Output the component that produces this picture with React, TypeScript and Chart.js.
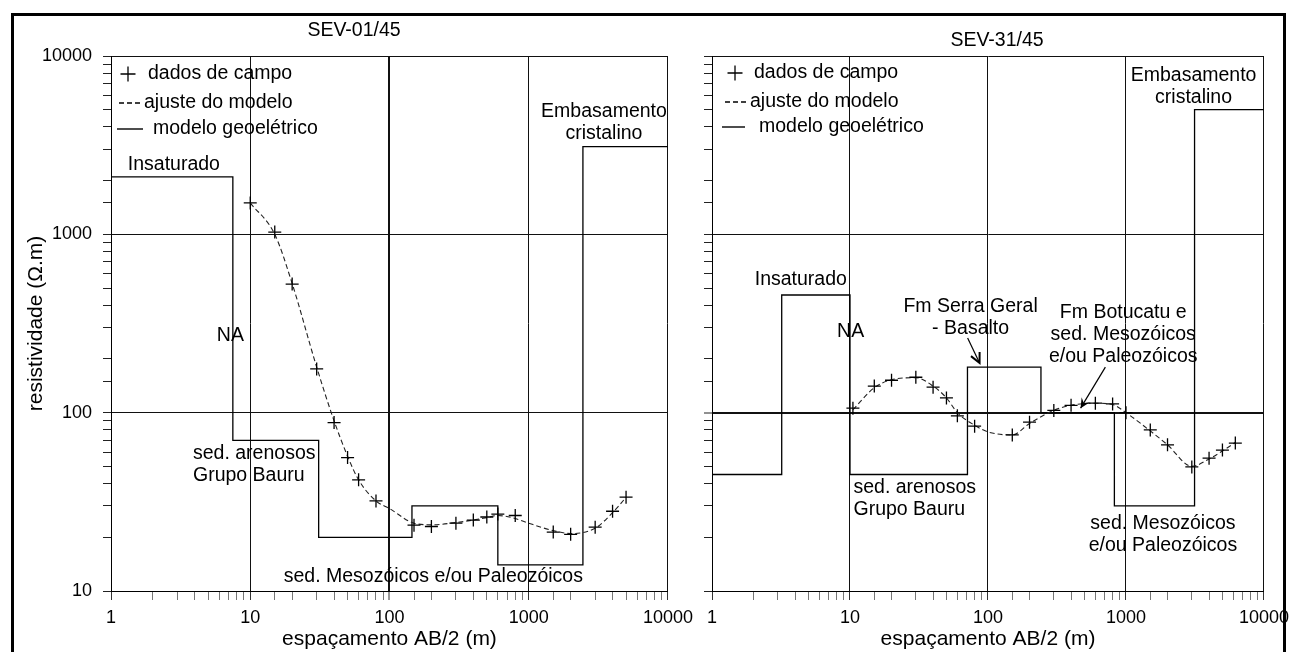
import React, { useEffect, useRef } from 'react';
import { Chart, registerables } from 'chart.js';

Chart.register(...registerables);

// ---------------- SEV-01/45 (left panel) ----------------
const sev01FieldAB = [10, 15, 20, 30, 40, 50, 60, 80, 150, 200, 300, 400, 500, 600, 800, 1500, 2000, 3000, 4000, 5000];
const sev01FieldRho = [1500, 1030, 526, 176, 88, 56, 42, 32, 23.4, 23, 24, 25, 26, 27, 26.5, 21.4, 20.8, 22.8, 28, 33.6];
const sev01FitAB = [10, 15, 20, 30, 40, 50, 60, 80, 100, 150, 200, 300, 400, 500, 600, 800, 1000, 1500, 2000, 3000, 4000, 5000];
const sev01FitRho = [1500, 1000, 530, 180, 90, 57, 42, 32, 29, 24, 23.5, 24.2, 25, 25.8, 26.5, 25.5, 24, 21.8, 21, 22.5, 27.5, 33.5];
const sev01ModelAB = [1, 7.5, 31, 145, 600, 2450, 10000];
const sev01ModelRho = [2100, 70, 20, 30, 14, 3100, 3100];

// ---------------- SEV-31/45 (right panel) ----------------
const sev31FieldAB = [10.5, 15, 20, 30, 40, 50, 60, 80, 150, 200, 300, 400, 600, 800, 1000, 1500, 2000, 3000, 4000, 5000, 6200];
const sev31FieldRho = [106, 141, 152, 158, 139, 121, 96, 84, 75, 88.5, 103, 110, 113, 112, 100, 80, 66, 49.6, 55.6, 61.7, 67.5];
const sev31FitAB = [10.5, 15, 20, 30, 40, 50, 60, 80, 100, 150, 200, 300, 400, 600, 800, 1000, 1500, 2000, 3000, 4000, 5000, 6200];
const sev31FitRho = [104, 138, 153, 157, 141, 121, 100, 85, 78, 75, 87, 103, 110, 113, 111, 100, 79, 66, 50, 55, 61, 68];
const sev31ModelAB = [1, 3.2, 10, 71, 242, 824, 3140, 10000];
const sev31ModelRho = [45, 457, 45, 180, 100, 30, 5000, 5000];

// ---------------- axes / text ----------------
const xTickLabels = ['1', '10', '100', '1000', '10000'];
const yTickLabels = ['10', '100', '1000', '10000'];
const xTitle = 'espaçamento AB/2 (m)';
const yTitle = 'resistividade (Ω.m)';
const legendLabels = ['dados de campo', 'ajuste do modelo', 'modelo geoelétrico'];

// annotations anchored at data coordinates (AB/2, rho)
const sev01Labels = [
  { lines: ['Insaturado'], x: 1.32, y: 2450, align: 'left' },
  { lines: ['NA'], x: 7.2, y: 272, align: 'center' },
  { lines: ['sed. arenosos', 'Grupo Bauru'], x: 3.88, y: 59.3, align: 'left' },
  { lines: ['sed. Mesozóicos e/ou Paleozóicos'], x: 2450, y: 12, align: 'right' },
  { lines: ['Embasamento', 'cristalino'], x: 3470, y: 4850, align: 'center' },
];
const sev31Labels = [
  { lines: ['Insaturado'], x: 2.04, y: 554, align: 'left' },
  { lines: ['NA'], x: 10.1, y: 283, align: 'center' },
  { lines: ['Fm Serra Geral', '- Basalto'], x: 74.8, y: 391, align: 'center' },
  { lines: ['Fm Botucatu e', 'sed. Mesozóicos', 'e/ou Paleozóicos'], x: 955, y: 366, align: 'center' },
  { lines: ['sed. arenosos', 'Grupo Bauru'], x: 10.6, y: 37.8, align: 'left' },
  { lines: ['sed. Mesozóicos', 'e/ou Paleozóicos'], x: 1852, y: 24, align: 'center' },
  { lines: ['Embasamento', 'cristalino'], x: 3090, y: 7720, align: 'center' },
];
const sev31Arrows = [
  { from: [71.2, 262], to: [86.9, 190], head: 'open' },
  { from: [709, 180], to: [469, 106], head: 'filled' },
];

const FONT = '"Liberation Sans", Arial, Helvetica, sans-serif';

const isDecade = (v: number) => {
  if (!(v > 0)) return false;
  const l = Math.log10(v);
  return Math.abs(l - Math.round(l)) < 1e-9;
};

const decorPlugin = {
  id: 'sevDecor',
  afterDraw(chart: any, _args: any, opts: any) {
    const { ctx, chartArea } = chart;
    const xs = chart.scales.x;
    const ys = chart.scales.y;
    ctx.save();
    ctx.fillStyle = '#000';
    ctx.strokeStyle = '#000';
    ctx.font = `${opts.fontSize}px ${FONT}`;
    ctx.textBaseline = 'middle';

    for (const lab of opts.labels) {
      const px = xs.getPixelForValue(lab.x);
      const py = ys.getPixelForValue(lab.y);
      ctx.textAlign = lab.align;
      lab.lines.forEach((t: string, i: number) => ctx.fillText(t, px, py + i * opts.lineGap));
    }

    for (const a of opts.arrows || []) {
      const x0 = xs.getPixelForValue(a.from[0]);
      const y0 = ys.getPixelForValue(a.from[1]);
      const x1 = xs.getPixelForValue(a.to[0]);
      const y1 = ys.getPixelForValue(a.to[1]);
      const ang = Math.atan2(y1 - y0, x1 - x0);
      ctx.lineWidth = 1.2;
      ctx.beginPath();
      ctx.moveTo(x0, y0);
      ctx.lineTo(x1, y1);
      ctx.stroke();
      const hl = 11;
      const spread = 0.45;
      const ax = x1 - hl * Math.cos(ang - spread);
      const ay = y1 - hl * Math.sin(ang - spread);
      const bx = x1 - hl * Math.cos(ang + spread);
      const by = y1 - hl * Math.sin(ang + spread);
      ctx.beginPath();
      if (a.head === 'filled') {
        ctx.moveTo(ax, ay);
        ctx.lineTo(x1, y1);
        ctx.lineTo(bx, by);
        ctx.lineTo(x1 - 0.55 * hl * Math.cos(ang), y1 - 0.55 * hl * Math.sin(ang));
        ctx.closePath();
        ctx.fill();
      } else {
        ctx.lineWidth = 2;
        ctx.moveTo(ax, ay);
        ctx.lineTo(x1, y1);
        ctx.lineTo(bx, by);
        ctx.stroke();
      }
    }

    ctx.textAlign = 'center';
    ctx.fillText(opts.title, opts.titleX, opts.titleY);

    const lg = opts.legend;
    const L = chartArea.left;
    const T = chartArea.top;
    ctx.textAlign = 'left';
    const cx = L + lg.crossDx;
    const cy = T + lg.rowsDy[0];
    ctx.lineWidth = 1.3;
    ctx.beginPath();
    ctx.moveTo(cx - 7.5, cy);
    ctx.lineTo(cx + 7.5, cy);
    ctx.moveTo(cx, cy - 7.5);
    ctx.lineTo(cx, cy + 7.5);
    ctx.stroke();
    ctx.lineWidth = 1.5;
    ctx.setLineDash([5, 3]);
    ctx.beginPath();
    ctx.moveTo(L + lg.dash[0], T + lg.rowsDy[1]);
    ctx.lineTo(L + lg.dash[1], T + lg.rowsDy[1]);
    ctx.stroke();
    ctx.setLineDash([]);
    ctx.lineWidth = 1.4;
    ctx.beginPath();
    ctx.moveTo(L + lg.line[0], T + lg.rowsDy[2]);
    ctx.lineTo(L + lg.line[1], T + lg.rowsDy[2]);
    ctx.stroke();
    legendLabels.forEach((t, i) => ctx.fillText(t, L + lg.textDx[i], T + lg.rowsDy[i]));

    ctx.restore();
  },
};

type PanelProps = {
  width: number;
  height: number;
  left: number;
  areaLeft: number;
  areaRight: number;
  showYLabels: boolean;
  fieldAB: number[];
  fieldRho: number[];
  fitAB: number[];
  fitRho: number[];
  modelAB: number[];
  modelRho: number[];
  labels: any[];
  arrows: any[];
  title: string;
  titleX: number;
  titleY: number;
  legend: any;
  thickX: number | null;
  thickY: number | null;
};

function Panel(p: PanelProps) {
  const ref = useRef<HTMLCanvasElement | null>(null);
  useEffect(() => {
    if (!ref.current) return;
    const toPts = (xa: number[], ya: number[]) => xa.map((x, i) => ({ x, y: ya[i] }));
    const chart = new Chart(ref.current, {
      type: 'scatter',
      data: {
        datasets: [
          {
            label: legendLabels[0],
            data: toPts(p.fieldAB, p.fieldRho),
            showLine: false,
            pointStyle: 'cross',
            pointRadius: 6.5,
            pointBorderWidth: 1.3,
            borderColor: '#000',
            backgroundColor: '#000',
          },
          {
            label: legendLabels[1],
            data: toPts(p.fitAB, p.fitRho),
            showLine: true,
            borderColor: '#222',
            borderWidth: 1.1,
            borderDash: [5, 3],
            pointRadius: 0,
            cubicInterpolationMode: 'monotone',
          },
          {
            label: legendLabels[2],
            data: toPts(p.modelAB, p.modelRho),
            showLine: true,
            stepped: true,
            borderColor: '#000',
            borderWidth: 1.3,
            pointRadius: 0,
          },
        ],
      } as any,
      plugins: [decorPlugin],
      options: {
        animation: false,
        responsive: false,
        events: [],
        layout: { padding: { left: 0, top: 56, right: p.width - p.areaRight, bottom: 0 } },
        plugins: {
          legend: { display: false },
          tooltip: { enabled: false },
          sevDecor: {
            fontSize: 19.5,
            lineGap: 22,
            labels: p.labels,
            arrows: p.arrows,
            title: p.title,
            titleX: p.titleX,
            titleY: p.titleY,
            legend: p.legend,
          },
        } as any,
        scales: {
          x: {
            type: 'logarithmic',
            position: 'bottom',
            min: 1,
            max: 10000,
            afterFit: (s: any) => {
              s.height = p.height - 591;
            },
            border: { display: true, color: '#000', width: 1 },
            grid: {
              color: (c: any) => (isDecade(c.tick?.value) ? '#111' : 'rgba(0,0,0,0)'),
              lineWidth: (c: any) => (p.thickX !== null && c.tick?.value === p.thickX ? 2 : 1),
              tickColor: (c: any) => (isDecade(c.tick?.value) ? '#333' : '#777'),
              tickWidth: 1,
              tickLength: 9,
              drawTicks: true,
            },
            ticks: {
              autoSkip: false,
              maxRotation: 0,
              minRotation: 0,
              padding: 7,
              color: '#000',
              font: { family: FONT, size: 18 },
              callback: (v: any) => {
                const n = Number(v);
                if (!isDecade(n)) return '';
                const s = String(Math.round(n));
                return xTickLabels.includes(s) ? s : '';
              },
            },
            title: {
              display: true,
              text: xTitle,
              color: '#000',
              font: { family: FONT, size: 21 },
              padding: { top: 0, bottom: 0 },
            },
          },
          y: {
            type: 'logarithmic',
            position: 'left',
            min: 10,
            max: 10000,
            afterFit: (s: any) => {
              s.width = p.areaLeft;
            },
            border: { display: true, color: '#000', width: 1 },
            grid: {
              color: (c: any) => (isDecade(c.tick?.value) ? '#111' : 'rgba(0,0,0,0)'),
              lineWidth: (c: any) => (p.thickY !== null && c.tick?.value === p.thickY ? 2 : 1),
              tickColor: '#222',
              tickWidth: 1,
              tickLength: 8,
              drawTicks: true,
            },
            ticks: {
              display: p.showYLabels,
              autoSkip: false,
              padding: 11,
              color: '#000',
              font: { family: FONT, size: 18 },
              callback: (v: any) => {
                const n = Number(v);
                if (!isDecade(n)) return '';
                const s = String(Math.round(n));
                return yTickLabels.includes(s) ? s : '';
              },
            },
            title: {
              display: p.showYLabels,
              text: yTitle,
              color: '#000',
              font: { family: FONT, size: 21 },
              padding: { top: 24, bottom: 0 },
            },
          },
        },
      } as any,
    });
    return () => chart.destroy();
  }, []);
  return (
    <canvas
      ref={ref}
      width={p.width}
      height={p.height}
      style={{ position: 'absolute', left: p.left, top: 0, width: p.width, height: p.height }}
    />
  );
}

export default function App() {
  return (
    <div
      style={{
        position: 'fixed',
        left: 0,
        top: 0,
        width: 1296,
        height: 652,
        overflow: 'hidden',
        background: '#fff',
      }}
    >
      <Panel
        width={700}
        height={652}
        left={0}
        areaLeft={111}
        areaRight={668}
        showYLabels={true}
        fieldAB={sev01FieldAB}
        fieldRho={sev01FieldRho}
        fitAB={sev01FitAB}
        fitRho={sev01FitRho}
        modelAB={sev01ModelAB}
        modelRho={sev01ModelRho}
        labels={sev01Labels}
        arrows={[]}
        title="SEV-01/45"
        titleX={354}
        titleY={31}
        legend={{ crossDx: 17, rowsDy: [18, 47, 73], textDx: [37, 33, 42], dash: [8, 31], line: [6, 32] }}
        thickX={100}
        thickY={null}
      />
      <Panel
        width={596}
        height={652}
        left={700}
        areaLeft={10}
        areaRight={567}
        showYLabels={false}
        fieldAB={sev31FieldAB}
        fieldRho={sev31FieldRho}
        fitAB={sev31FitAB}
        fitRho={sev31FitRho}
        modelAB={sev31ModelAB}
        modelRho={sev31ModelRho}
        labels={sev31Labels}
        arrows={sev31Arrows}
        title="SEV-31/45"
        titleX={297}
        titleY={41}
        legend={{ crossDx: 23, rowsDy: [17, 46, 71], textDx: [42, 38, 47], dash: [13, 35], line: [10, 33] }}
        thickX={null}
        thickY={100}
      />
      <div
        style={{
          position: 'absolute',
          left: 11,
          top: 13,
          width: 1275,
          height: 700,
          boxSizing: 'border-box',
          border: '3px solid #000',
          pointerEvents: 'none',
        }}
      />
    </div>
  );
}
